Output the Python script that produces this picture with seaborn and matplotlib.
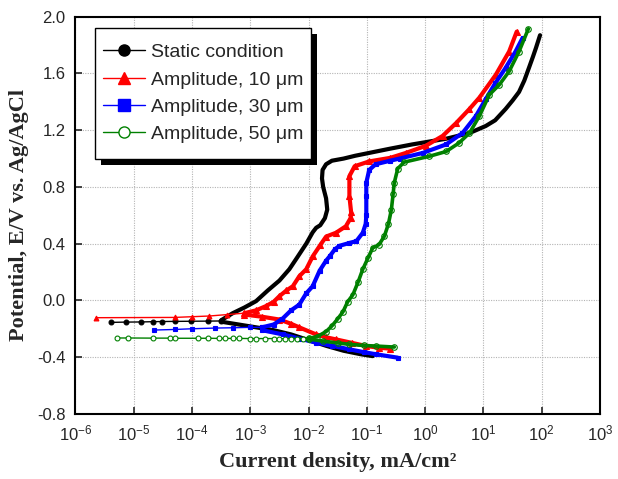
import numpy as np
import seaborn as sns
import matplotlib.pyplot as plt
from matplotlib.lines import Line2D
from matplotlib.patches import Rectangle
from matplotlib.ticker import NullLocator, FormatStrFormatter

# values: log10(current density, mA/cm2) and potential (V vs Ag/AgCl)
# each curve = low-current flat part near Ecorr, anodic branch, cathodic branch

static_flat_logi = [-5.39, -5.14, -4.87, -4.67, -4.51, -4.30, -4.01, -3.73, -3.50]
static_flat_e = [-0.155, -0.153, -0.152, -0.150, -0.149, -0.148, -0.147, -0.146, -0.145]
static_an_logi = [-3.50, -3.30, -3.10, -2.90, -2.70, -2.50, -2.33, -2.20, -2.04, -1.93, -1.87,
                  -1.80, -1.72, -1.68, -1.70, -1.75, -1.77, -1.76, -1.70, -1.60, -1.40, -1.20,
                  -0.96, -0.60, -0.22, 0.36, 0.76, 1.04, 1.20, 1.38, 1.50, 1.61, 1.70, 1.78,
                  1.85, 1.90, 1.97]
static_an_e = [-0.140, -0.090, -0.050, -0.005, 0.070, 0.140, 0.220, 0.300, 0.400, 0.480, 0.512,
               0.530, 0.580, 0.640, 0.720, 0.800, 0.860, 0.920, 0.960, 0.985, 1.000, 1.020,
               1.040, 1.070, 1.100, 1.140, 1.180, 1.230, 1.270, 1.350, 1.410, 1.470, 1.550, 1.640,
               1.720, 1.780, 1.870]
static_ca_logi = [-3.50, -3.20, -2.90, -2.60, -2.30, -2.00, -1.70, -1.40, -1.10, -0.90]
static_ca_e = [-0.150, -0.170, -0.190, -0.210, -0.240, -0.280, -0.320, -0.355, -0.380, -0.393]

amp10_flat_logi = [-5.64, -4.30, -4.00, -3.70, -3.40, -3.10]
amp10_flat_e = [-0.122, -0.120, -0.115, -0.110, -0.100, -0.090]
amp10_an_logi = [-3.10, -2.90, -2.73, -2.60, -2.50, -2.38, -2.27, -2.16, -2.04, -1.93, -1.80,
                 -1.70, -1.53, -1.36, -1.28, -1.27, -1.30, -1.30, -1.21, -0.96, -0.60, -0.33,
                 0.01, 0.30, 0.53, 0.76, 0.93, 1.21, 1.44, 1.57]
amp10_an_e = [-0.090, -0.070, -0.040, -0.010, 0.030, 0.070, 0.100, 0.170, 0.220, 0.310, 0.390,
              0.450, 0.477, 0.523, 0.580, 0.620, 0.735, 0.876, 0.946, 0.980, 1.005, 1.040,
              1.090, 1.160, 1.250, 1.350, 1.430, 1.590, 1.755, 1.895]
amp10_ca_logi = [-3.10, -2.80, -2.50, -2.30, -2.16, -1.87, -1.70, -1.53, -1.25, -1.01, -0.80, -0.61]
amp10_ca_e = [-0.100, -0.115, -0.135, -0.165, -0.190, -0.240, -0.260, -0.275, -0.300, -0.322,
              -0.333, -0.340]

amp30_flat_logi = [-4.65, -4.30, -4.00, -3.60, -3.30, -3.00, -2.80]
amp30_flat_e = [-0.209, -0.205, -0.200, -0.195, -0.193, -0.190, -0.190]
amp30_an_logi = [-2.80, -2.60, -2.45, -2.30, -2.16, -2.04, -1.93, -1.81, -1.70, -1.64, -1.55,
                 -1.47, -1.30, -1.18, -1.07, -1.02, -1.01, -1.01, -1.01, -0.96, -0.85, -0.60,
                 -0.44, -0.04, 0.36, 0.64, 0.87, 1.04, 1.20, 1.38, 1.55, 1.67]
amp30_an_e = [-0.190, -0.170, -0.130, -0.070, -0.030, 0.050, 0.100, 0.210, 0.280, 0.310, 0.360,
              0.385, 0.405, 0.418, 0.477, 0.540, 0.600, 0.735, 0.830, 0.920, 0.960, 0.985,
              1.000, 1.040, 1.100, 1.180, 1.300, 1.420, 1.530, 1.640, 1.755, 1.850]
amp30_ca_logi = [-2.80, -2.44, -2.15, -1.87, -1.60, -1.30, -1.05, -0.84, -0.47]
amp30_ca_e = [-0.210, -0.240, -0.270, -0.298, -0.320, -0.345, -0.365, -0.380, -0.404]

amp50_flat_logi = [-5.29, -5.10, -4.67, -4.38, -4.30, -3.90, -3.73, -3.53, -3.44, -3.30, -3.20,
                   -3.00, -2.90, -2.75, -2.60, -2.50, -2.40, -2.30, -2.20, -2.10, -2.00]
amp50_flat_e = [-0.265, -0.265, -0.266, -0.266, -0.267, -0.267, -0.267, -0.268, -0.268, -0.268,
                -0.268, -0.269, -0.269, -0.269, -0.269, -0.270, -0.270, -0.270, -0.270, -0.270,
                -0.270]
amp50_an_logi = [-2.00, -1.85, -1.70, -1.60, -1.50, -1.41, -1.33, -1.24, -1.15, -1.07, -0.98,
                 -0.90, -0.79, -0.70, -0.63, -0.58, -0.55, -0.53, -0.47, -0.36, 0.07, 0.36,
                 0.58, 0.76, 0.93, 1.10, 1.27, 1.44, 1.61, 1.77]
amp50_an_e = [-0.268, -0.255, -0.220, -0.180, -0.130, -0.080, -0.010, 0.040, 0.130, 0.220,
              0.300, 0.370, 0.394, 0.453, 0.540, 0.640, 0.750, 0.830, 0.930, 0.975, 1.016, 1.050,
              1.110, 1.180, 1.300, 1.450, 1.520, 1.615, 1.755, 1.915]
amp50_ca_logi = [-2.00, -1.76, -1.50, -1.30, -1.05, -0.84, -0.53]
amp50_ca_e = [-0.272, -0.287, -0.300, -0.310, -0.318, -0.322, -0.329]

labels = ['Static condition', 'Amplitude, 10 μm', 'Amplitude, 30 μm', 'Amplitude, 50 μm']
colors = ['black', '#ff0000', '#0000ff', '#008000']
markers = ['o', '^', 's', 'o']
curves = [
    (static_flat_logi, static_flat_e, static_an_logi, static_an_e, static_ca_logi, static_ca_e),
    (amp10_flat_logi, amp10_flat_e, amp10_an_logi, amp10_an_e, amp10_ca_logi, amp10_ca_e),
    (amp30_flat_logi, amp30_flat_e, amp30_an_logi, amp30_an_e, amp30_ca_logi, amp30_ca_e),
    (amp50_flat_logi, amp50_flat_e, amp50_an_logi, amp50_an_e, amp50_ca_logi, amp50_ca_e),
]
# marker size on the thick branches (black looks like a smooth line)
branch_ms = [0, 4, 3.5, 4]

sns.set_style('white')
plt.rcParams['font.family'] = ['Liberation Sans', 'DejaVu Sans']
plt.rcParams['mathtext.fontset'] = 'custom'
plt.rcParams['mathtext.rm'] = 'Liberation Sans'
plt.rcParams['mathtext.it'] = 'Liberation Sans:italic'
plt.rcParams['mathtext.bf'] = 'Liberation Sans:bold'
plt.rcParams['axes.unicode_minus'] = False

fig = plt.figure(figsize=(6.18, 4.79), dpi=100)
ax = fig.add_axes([0.122, 0.136, 0.849, 0.829])

for (fl_x, fl_e, an_x, an_e, ca_x, ca_e), col, mk, bms in zip(curves, colors, markers, branch_ms):
    green = col == '#008000'
    face = 'white' if green else col
    # sparse low-current part: thin line with separate markers
    sns.lineplot(x=10 ** np.array(fl_x), y=fl_e, ax=ax, sort=False, estimator=None,
                 color=col, linewidth=1.0, marker=mk, markersize=3.5,
                 markerfacecolor=face, markeredgecolor=col, markeredgewidth=0.8, legend=False)
    # dense branches look like thick lines
    for bx, be in ((an_x, an_e), (ca_x, ca_e)):
        sns.lineplot(x=10 ** np.array(bx), y=be, ax=ax, sort=False, estimator=None,
                     color=col, linewidth=2.6 if green else 3.0, marker=mk, markersize=bms,
                     markerfacecolor='none' if green else col, markeredgecolor=col,
                     markeredgewidth=0.8, legend=False)

ax.set_xscale('log')
ax.set_xlim(1e-6, 1e3)
ax.set_ylim(-0.8, 2.0)
ax.set_yticks([-0.8, -0.4, 0.0, 0.4, 0.8, 1.2, 1.6, 2.0])
ax.yaxis.set_major_formatter(FormatStrFormatter('%.1f'))
ax.set_xticks([1e-6, 1e-5, 1e-4, 1e-3, 1e-2, 1e-1, 1e0, 1e1, 1e2, 1e3])
ax.xaxis.set_minor_locator(NullLocator())
ax.tick_params(axis='both', which='major', direction='in', length=5, width=1.2,
               labelsize=12, pad=7, bottom=True, left=True, top=False, right=False)
ax.grid(True, which='major', color='#b4b4b4', linestyle=(0, (1, 1.2)), linewidth=0.8)
for sp in ax.spines.values():
    sp.set_color('black')
    sp.set_linewidth(1.5)

ax.set_xlabel('Current density, mA/cm²', fontsize=16, fontweight='bold',
              family='Liberation Serif', labelpad=6)
ax.set_ylabel('Potential, E/V vs. Ag/AgCl', fontsize=16, fontweight='bold',
              family='Liberation Serif', labelpad=6)

handles = []
for lab, col, mk in zip(labels, colors, markers):
    face = 'white' if col == '#008000' else col
    handles.append(Line2D([], [], color=col, linewidth=1.0, marker=mk, markersize=8,
                          markerfacecolor=face, markeredgecolor=col, label=lab))
leg = ax.legend(handles=handles, loc='upper left', bbox_to_anchor=(0.037, 0.952),
                fontsize=14, frameon=False, handlelength=2.2, handletextpad=0.3,
                labelspacing=0.5, borderpad=0.4, borderaxespad=0)
leg.set_zorder(6)

# legend box (taller than the text block) with a solid black drop shadow
fig.canvas.draw()
bb = leg.get_window_extent()
inv = ax.transAxes.inverted()
extra = 8
for dx, dy, z, fc, ec in ((6, -6, 5.5, 'black', 'none'), (0, 0, 5.8, 'white', 'black')):
    (x0, y0) = inv.transform((bb.x0 + dx, bb.y0 - extra + dy))
    (x1, y1) = inv.transform((bb.x1 + dx, bb.y1 + extra + dy))
    ax.add_patch(Rectangle((x0, y0), x1 - x0, y1 - y0, transform=ax.transAxes,
                           facecolor=fc, edgecolor=ec, linewidth=1.0, zorder=z,
                           clip_on=False))
ax.set_xlim(1e-6, 1e3)
ax.set_ylim(-0.8, 2.0)

fig.savefig('out.png', dpi=100)
